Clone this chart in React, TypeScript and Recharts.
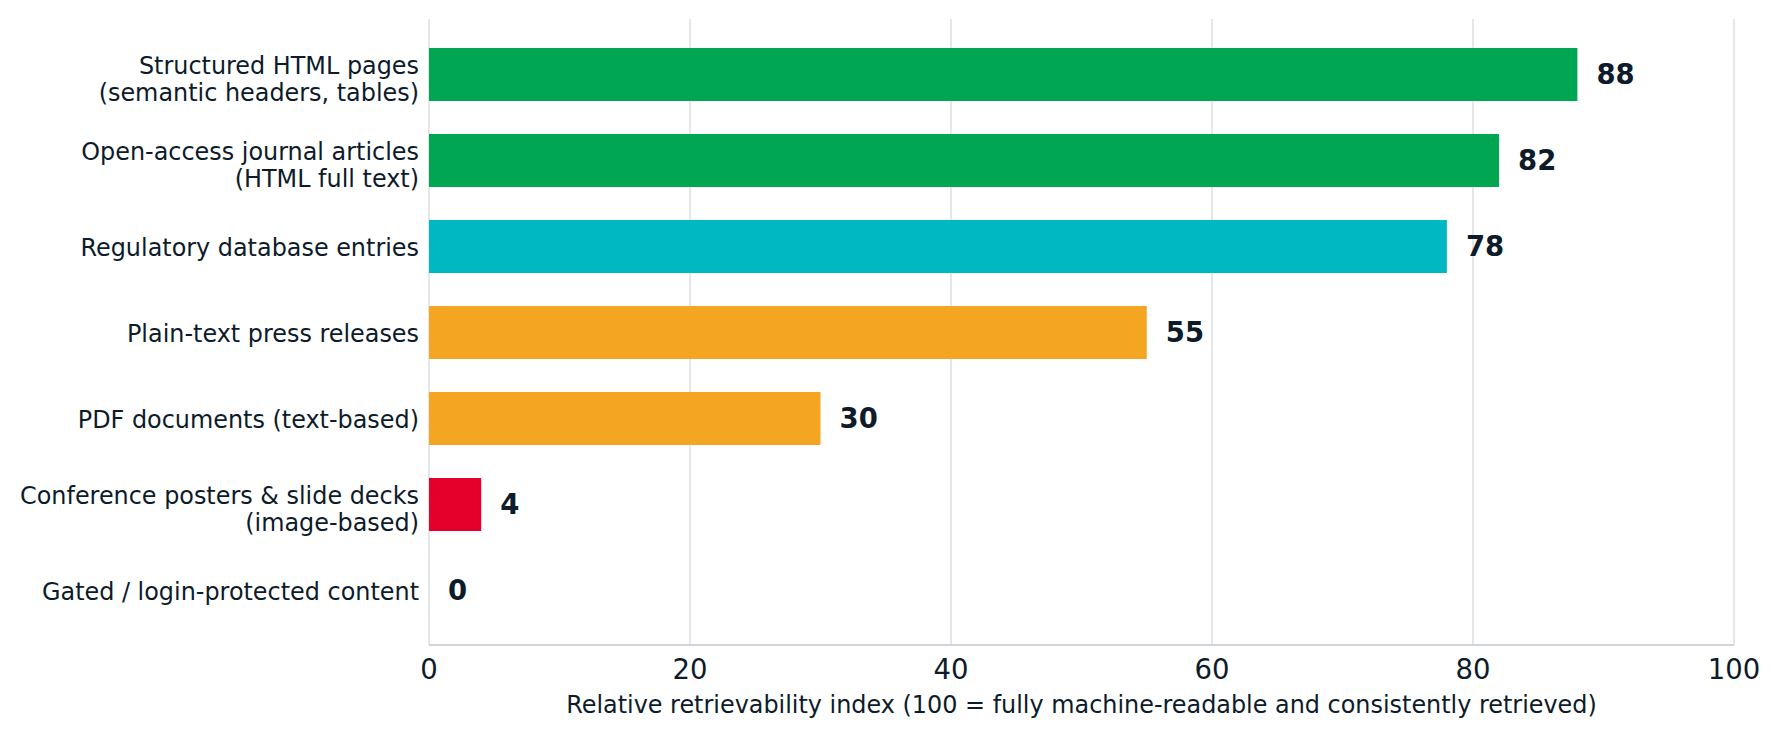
import React from 'react';
import {
  BarChart,
  Bar,
  XAxis,
  YAxis,
  CartesianGrid,
  Cell,
  LabelList,
} from 'recharts';

const categories = [
  'Structured HTML pages\n(semantic headers, tables)',
  'Open-access journal articles\n(HTML full text)',
  'Regulatory database entries',
  'Plain-text press releases',
  'PDF documents (text-based)',
  'Conference posters & slide decks\n(image-based)',
  'Gated / login-protected content',
];
const values = [88, 82, 78, 55, 30, 4, 0];
const barColors = ['#00a651', '#00a651', '#00b8c2', '#f4a623', '#f4a623', '#e4002b', '#e4002b'];
const xTicks = [0, 20, 40, 60, 80, 100];

const FONT = '"DejaVu Sans", sans-serif';
const TEXT = '#0d1b2a';

const data = categories.map((name, i) => ({ name, value: values[i] }));

function CategoryTick(props: any) {
  const { x, y, payload } = props;
  const lines: string[] = String(payload.value).split('\n');
  const lh = 27;
  // matplotlib centres the whole block (with descenders), so two-line labels sit a bit lower
  const shift = lines.length > 1 ? 4.5 : 1;
  return (
    <text x={x} y={y} textAnchor="end" fill={TEXT} fontFamily={FONT} fontSize={23.9}>
      {lines.map((line, i) => (
        <tspan key={i} x={x} y={y + shift + (i - (lines.length - 1) / 2) * lh} dy="0.36em">
          {line}
        </tspan>
      ))}
    </text>
  );
}

export default function App() {
  return (
    <div style={{ position: 'absolute', left: 0, top: 0, width: 1780, height: 738, background: '#fff' }}>
      <BarChart
        width={1780}
        height={738}
        data={data}
        layout="vertical"
        margin={{ top: 19, right: 46, left: 0, bottom: 0 }}
        barSize={53}
      >
        <CartesianGrid horizontal={false} stroke="#d3d7db" strokeWidth={1.2} />
        <XAxis
          type="number"
          domain={[0, 100]}
          ticks={xTicks}
          height={93}
          tickLine={false}
          tickSize={6}
          tickMargin={8}
          axisLine={{ stroke: '#cfd5da', strokeWidth: 2 }}
          tick={{ fill: TEXT, fontSize: 27.5, fontFamily: FONT }}
          label={{
            value: 'Relative retrievability index (100 = fully machine-readable and consistently retrieved)',
            position: 'insideBottom',
            offset: 25.5,
            fill: TEXT,
            fontSize: 23.9,
            fontFamily: FONT,
          }}
        />
        <YAxis
          type="category"
          dataKey="name"
          width={429}
          axisLine={false}
          tickLine={false}
          tickSize={5}
          tickMargin={5}
          interval={0}
          padding={{ top: 12, bottom: 12 }}
          tick={<CategoryTick />}
        />
        <Bar dataKey="value" isAnimationActive={false} minPointSize={0.01}>
          {data.map((d, i) => (
            <Cell key={d.name} fill={barColors[i]} />
          ))}
          <LabelList
            dataKey="value"
            position="right"
            offset={19}
            fill={TEXT}
            style={{ fontWeight: 700, fontSize: 27.5, fontFamily: FONT }}
          />
        </Bar>
      </BarChart>
    </div>
  );
}
